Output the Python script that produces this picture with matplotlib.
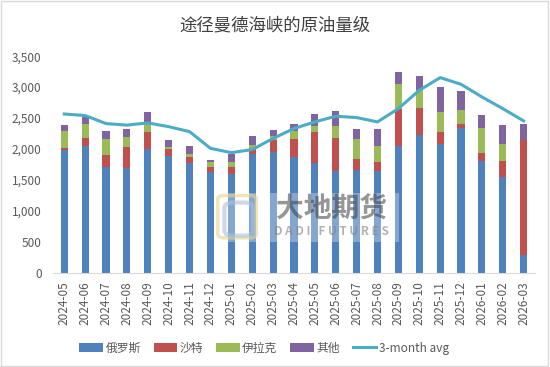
import matplotlib
matplotlib.use("Agg")
import matplotlib.pyplot as plt
import numpy as np
from matplotlib.patches import Rectangle, FancyBboxPatch

plt.rcParams['font.family'] = ['Noto Sans CJK SC', 'DejaVu Sans']

months = ['2024-05', '2024-06', '2024-07', '2024-08', '2024-09', '2024-10',
          '2024-11', '2024-12', '2025-01', '2025-02', '2025-03', '2025-04',
          '2025-05', '2025-06', '2025-07', '2025-08', '2025-09', '2025-10',
          '2025-11', '2025-12', '2026-01', '2026-02', '2026-03']
russia = [1980, 2044, 1711, 1695, 2001, 1883, 1770, 1635, 1603, 1921, 1953, 1872,
          1765, 1641, 1657, 1641, 2055, 2233, 2087, 2335, 1802, 1549, 285]
saudi = [37, 129, 188, 333, 269, 113, 102, 70, 102, 86, 188, 296,
         511, 543, 178, 151, 597, 430, 194, 75, 129, 259, 1856]
iraq = [275, 227, 258, 162, 140, 32, 54, 92, 86, 53, 65, 124,
        91, 194, 322, 252, 404, 285, 323, 226, 404, 279, 0]
other = [97, 118, 135, 129, 194, 119, 124, 21, 135, 146, 107, 118,
         194, 231, 173, 286, 188, 226, 398, 296, 210, 302, 259]
avg3 = [2565, 2540, 2410, 2385, 2421, 2360, 2280, 2010, 1940, 1990, 2170, 2330,
        2437, 2529, 2507, 2437, 2652, 2948, 3153, 3045, 2841, 2652, 2453]

c_ru = '#4F81BD'
c_sa = '#C0504D'
c_iq = '#9BBB59'
c_ot = '#8064A2'
c_avg = '#4BACC6'
txt = '#595959'

fig = plt.figure(figsize=(5.5, 3.67), dpi=100)
ax = fig.add_axes([0.096, 0.257, 0.877, 0.59])

x = np.arange(len(months))
w = 0.34
r = np.array(russia)
s = np.array(saudi)
i = np.array(iraq)
o = np.array(other)
b1 = ax.bar(x, r, w, color=c_ru, label='俄罗斯', zorder=2)
b2 = ax.bar(x, s, w, bottom=r, color=c_sa, label='沙特', zorder=2)
b3 = ax.bar(x, i, w, bottom=r + s, color=c_iq, label='伊拉克', zorder=2)
b4 = ax.bar(x, o, w, bottom=r + s + i, color=c_ot, label='其他', zorder=2)
ln, = ax.plot(x, avg3, color=c_avg, linewidth=2.2, label='3-month avg', zorder=3)

ax.set_ylim(0, 3500)
ax.set_xlim(-0.55, len(months) - 0.45)
ax.set_yticks(np.arange(0, 3501, 500))
ax.set_yticklabels([f'{v:,}' for v in range(0, 3501, 500)])
ax.set_xticks(x)
ax.set_xticklabels(months, rotation=90)
ax.tick_params(axis='both', length=0, labelsize=8.5, colors=txt)
ax.tick_params(axis='x', pad=6)
ax.tick_params(axis='y', pad=8)
for sp in ['top', 'right', 'left']:
    ax.spines[sp].set_visible(False)
ax.spines['bottom'].set_color('#D9D9D9')

# watermark (translucent logo + company name)
fig.add_artist(Rectangle((0.39, 0.34), 0.335, 0.135, transform=fig.transFigure,
                         facecolor='white', edgecolor='none', alpha=0.3, zorder=5))
fig.add_artist(FancyBboxPatch((0.396, 0.352), 0.07, 0.115, transform=fig.transFigure,
                              boxstyle='round,pad=0,rounding_size=0.01',
                              facecolor='none', edgecolor='#E8D48A', linewidth=2.5,
                              alpha=0.6, zorder=6))
fig.add_artist(FancyBboxPatch((0.408, 0.358), 0.052, 0.09, transform=fig.transFigure,
                              boxstyle='round,pad=0,rounding_size=0.015',
                              facecolor='none', edgecolor='#A9C0DA', linewidth=3,
                              alpha=0.6, zorder=6))
fig.text(0.603, 0.43, '大地期货', fontsize=20, color='#404040', alpha=0.55,
         ha='center', va='center', fontweight='bold', zorder=7)
fig.text(0.603, 0.37, 'D A D I   F U T U R E S', fontsize=8.5, color='#808080',
         alpha=0.6, ha='center', va='center', fontweight='bold', zorder=7)

fig.suptitle('途径曼德海峡的原油量级', y=0.955, fontsize=12.5, color='#404040')
fig.legend(handles=[b1, b2, b3, b4, ln], loc='lower center', ncol=5,
           bbox_to_anchor=(0.48, 0.005), frameon=False,
           fontsize=8.5, labelcolor=txt, handlelength=2.0, handletextpad=0.2,
           columnspacing=1.1)

fig.add_artist(Rectangle((0.002, 0.003), 0.995, 0.994, transform=fig.transFigure,
                         fill=False, edgecolor='#D9D9D9', linewidth=1))

fig.savefig('out.png', dpi=100)
